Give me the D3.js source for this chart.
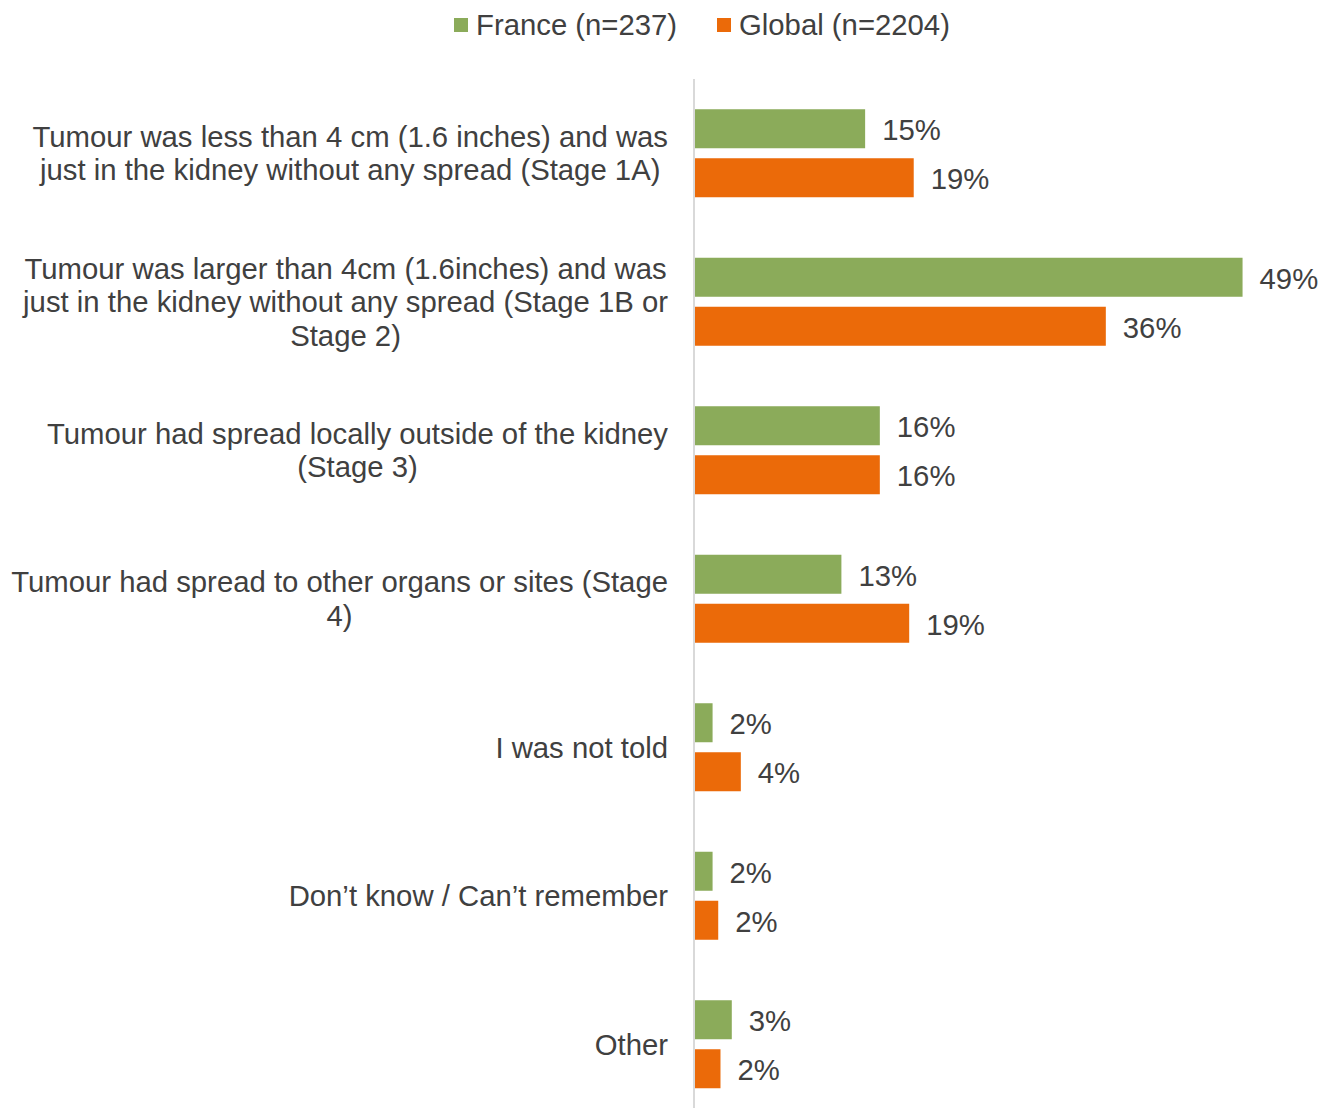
<!DOCTYPE html>
<html>
<head>
<meta charset="utf-8">
<script src="https://cdn.jsdelivr.net/npm/d3@7"></script>
<style>
  body { margin: 0; background: #fff; }
  svg { display: block; font-family: "Liberation Sans", Arial, sans-serif; }
</style>
</head>
<body>
<div id="chart"></div>
<script>
// category labels, already wrapped the way the original shows them
const categories = [
    ["Tumour was less than 4 cm (1.6 inches) and was", "just in the kidney without any spread (Stage 1A)"],
    ["Tumour was larger than 4cm (1.6inches) and was", "just in the kidney without any spread (Stage 1B or", "Stage 2)"],
    ["Tumour had spread locally outside of the kidney", "(Stage 3)"],
    ["Tumour had spread to other organs or sites (Stage", "4)"],
    ["I was not told"],
    ["Don\u2019t know / Can\u2019t remember"],
    ["Other"]
];
const seriesNames = ["France (n=237)", "Global (n=2204)"];
const franceValues = [15.1, 48.5, 16.4, 13.0, 1.6, 1.6, 3.3];
const globalValues = [19.4, 36.4, 16.4, 19.0, 4.1, 2.1, 2.3];
const franceLabels = ["15%", "49%", "16%", "13%", "2%", "2%", "3%"];
const globalLabels = ["19%", "36%", "16%", "19%", "4%", "2%", "2%"];

const width = 1327, height = 1108;
const colors = ["#8bab5a", "#eb6a09"];
const textColor = "#404040";
const fontSize = 29.3;

const svg = d3.select("#chart").append("svg")
    .attr("width", width)
    .attr("height", height);

const x = d3.scaleLinear().domain([0, 55]).range([694.5, 694.5 + 55 * 11.3]);
const y = d3.scaleBand().domain(d3.range(categories.length)).range([79, 1118.5]);
const barH = 39, barGap = 10;

const series = [
    { name: seriesNames[0], values: franceValues, labels: franceLabels },
    { name: seriesNames[1], values: globalValues, labels: globalLabels }
];

// bars
series.forEach(function (s, si) {
    const g = svg.append("g");
    const top = function (i) {
        return y(i) + y.bandwidth() / 2 - barH - barGap / 2 + si * (barH + barGap);
    };
    g.selectAll("rect")
        .data(s.values)
        .enter().append("rect")
        .attr("x", x(0))
        .attr("y", (d, i) => top(i))
        .attr("width", d => x(d) - x(0))
        .attr("height", barH)
        .attr("fill", colors[si]);

    g.selectAll("text")
        .data(s.labels)
        .enter().append("text")
        .attr("x", (d, i) => x(s.values[i]) + 17)
        .attr("y", (d, i) => top(i) + barH / 2 + 1)
        .attr("dy", "0.35em")
        .attr("fill", textColor)
        .style("font-size", fontSize + "px")
        .text(d => d);
});

// vertical axis line
svg.append("line")
    .attr("x1", x(0) - 0.5).attr("x2", x(0) - 0.5)
    .attr("y1", 79).attr("y2", height)
    .attr("stroke", "#d9d9d9")
    .attr("stroke-width", 2);

// category labels: lines centred in a block that is right-aligned to the axis
const lineH = 33.5;
const labelRight = 668;
categories.forEach(function (lines, i) {
    const g = svg.append("g");
    const cy = y(i) + y.bandwidth() / 2;
    const t = g.selectAll("text")
        .data(lines)
        .enter().append("text")
        .attr("y", (d, j) => cy + (j - (lines.length - 1) / 2) * lineH)
        .attr("dy", "0.35em")
        .attr("text-anchor", "middle")
        .attr("fill", textColor)
        .style("font-size", fontSize + "px")
        .text(d => d);
    let maxW = 0;
    t.each(function () { maxW = Math.max(maxW, this.getComputedTextLength()); });
    t.attr("x", labelRight - maxW / 2);
});

// legend
const legend = svg.append("g");
const legendX = [454, 717];
series.forEach(function (s, si) {
    legend.append("rect")
        .attr("x", legendX[si]).attr("y", 18)
        .attr("width", 14).attr("height", 14)
        .attr("fill", colors[si]);
    legend.append("text")
        .attr("x", legendX[si] + 22)
        .attr("y", 25)
        .attr("dy", "0.35em")
        .attr("fill", textColor)
        .style("font-size", fontSize + "px")
        .text(s.name);
});
</script>
</body>
</html>
